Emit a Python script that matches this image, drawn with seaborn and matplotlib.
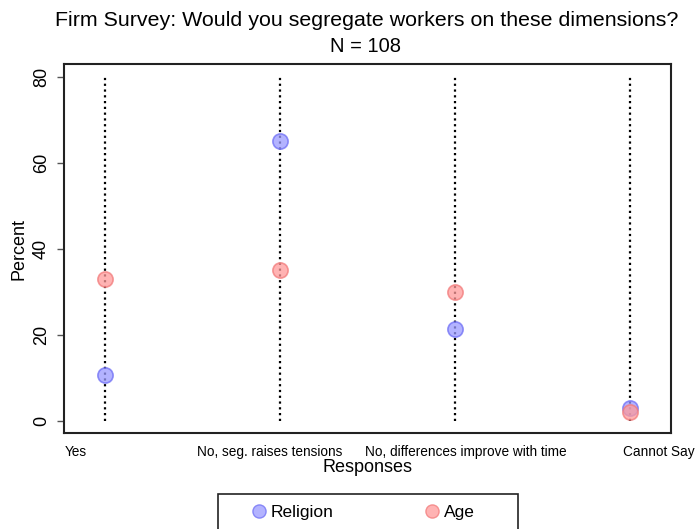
import pandas as pd
import seaborn as sns
import matplotlib.pyplot as plt
from matplotlib.lines import Line2D
from matplotlib.patches import Rectangle

responses = ['Yes', 'No, seg. raises tensions', 'No, differences improve with time', 'Cannot Say']
religion = [10.7, 65.0, 21.3, 2.9]
age = [33.0, 35.0, 30.0, 2.0]

df = pd.DataFrame({
    'pos': list(range(len(responses))) * 2,
    'percent': religion + age,
    'group': ['Religion'] * len(responses) + ['Age'] * len(responses),
})

sns.set_style('white')
plt.rcParams['font.family'] = ['Liberation Sans', 'DejaVu Sans']
plt.rcParams['text.color'] = 'black'
plt.rcParams['axes.labelcolor'] = 'black'
plt.rcParams['ytick.color'] = 'black'

W, H = 697, 529
fig = plt.figure(figsize=(6.97, 5.29), dpi=100)
ax = fig.add_axes([64 / W, 1 - 433 / H, 607 / W, 369 / H])

# dotted guide lines for each response
ax.vlines(range(len(responses)), 0, 80, colors='black', linestyles=(0, (1, 1.6)), linewidth=1.6, zorder=1)

colors = {'Religion': '#9a9aff', 'Age': '#ff9a9a'}
edges = {'Religion': '#6e6ef5', 'Age': '#f27a7a'}
for grp in ['Religion', 'Age']:
    sub = df[df.group == grp]
    sns.scatterplot(data=sub, x='pos', y='percent', ax=ax, s=120, color=colors[grp],
                    edgecolor=edges[grp], linewidth=1.2, alpha=0.75, zorder=2, legend=False)

ax.set_xlim(-0.234, 3.234)
ax.set_ylim(-2.8, 83.0)
ax.set_yticks([0, 20, 40, 60, 80])
ax.set_yticklabels(['0', '20', '40', '60', '80'], rotation=90, va='center', fontsize=13)
ax.tick_params(axis='y', length=5, width=1, left=True, pad=5, color='#555555')
ax.set_xticks([])
ax.set_xlabel('')
ax.set_ylabel('Percent', fontsize=13)
ax.yaxis.set_label_coords((28 - 64) / 607, 0.5)
for s in ax.spines.values():
    s.set_color('#222222')
    s.set_linewidth(1.5)

# response labels below the axis
lab_x = [65, 270, 466, 695]
lab_ha = ['left', 'center', 'center', 'right']
for txt, x, ha in zip(responses, lab_x, lab_ha):
    fig.text(x / W, 1 - 452 / H, txt, ha=ha, va='center', fontsize=9.8)
fig.text(368 / W, 1 - 468 / H, 'Responses', ha='center', va='center', fontsize=13)

fig.text(366.5 / W, 1 - 20 / H, 'Firm Survey: Would you segregate workers on these dimensions?',
         ha='center', va='center', fontsize=15.4)
fig.text(366 / W, 1 - 47 / H, 'N = 108', ha='center', va='center', fontsize=14.5)

handles = [Line2D([], [], marker='o', linestyle='', markersize=9.5, markerfacecolor=colors[g],
                  markeredgecolor=edges[g], alpha=0.75) for g in ['Religion', 'Age']]
fig.legend(handles, ['Religion', 'Age'], loc='upper left', ncol=2,
           bbox_to_anchor=(250.3 / W, 1 - 505 / H), frameon=False,
           fontsize=12.5, handletextpad=0.19, handlelength=1.0, borderpad=0,
           borderaxespad=0, columnspacing=5.15)
fig.add_artist(Rectangle((218 / W, -0.1), 300 / W, 35 / H + 0.1, transform=fig.transFigure,
                         fill=False, edgecolor='#222222', linewidth=1.2))

fig.savefig('out.png', dpi=100)
